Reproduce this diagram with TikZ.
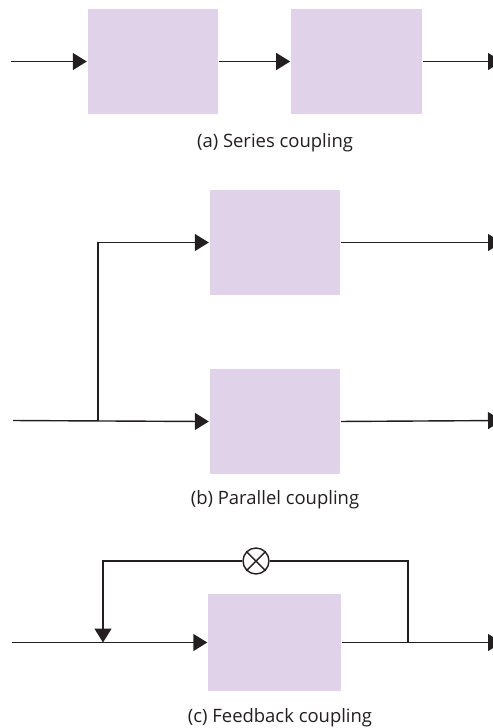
\documentclass[tikz,border=0pt]{standalone}
\usepackage{fontspec}
\setmainfont{Open Sans}
\usetikzlibrary{arrows.meta,positioning}

\definecolor{lilac}{RGB}{224,211,233}
\definecolor{ink}{RGB}{35,31,32}

\begin{document}
\begin{tikzpicture}[x=0.02cm,y=-0.02cm,>={Triangle[length=0.28cm,width=0.34cm]},
	line width=0.8pt,draw=ink,
	block/.style={fill=lilac,draw=none,inner sep=0pt,minimum width=2.62cm,minimum height=2.1cm},
	caption/.style={font=\fontsize{10.5}{12}\selectfont,text=ink},
	mult/.style={circle,draw=ink,fill=white,minimum size=0.52cm,inner sep=0pt}]
	\useasboundingbox (0,0) rectangle (493,728);

	% (a) series
	\node[block] (s1) at (153,61.5) {};
	\node[block] (s2) [right=1.42cm of s1] {};
	\coordinate (sin) at (11,61.5);
	\coordinate (sout) at (502,61.5);
	\node[caption] (capa) at (275,143) {(a) Series coupling};

	\path[->] (sin) edge (s1)
	(s1) edge (s2)
	(s2) edge (sout);

	% (b) parallel
	\node[block] (p1) at (275,242.5) {};
	\node[block] (p2) [below=1.46cm of p1] {};
	\coordinate (pin) at (13,420.5);
	\coordinate (split) at (98,420.5);
	\coordinate (pout1) at (502,242.5);
	\coordinate (pout2) at (502,420.5);
	\node[caption] (capb) at (275,500) {(b) Parallel coupling};

	\draw[->] (pin) -- (p2);
	\draw[->] (split) |- (p1);
	\path[->] (p1) edge (pout1)
	(p2) edge (pout2);

	% (c) feedback
	\node[block,minimum width=2.66cm,minimum height=1.94cm] (f) at (274.5,642.5) {};
	\node[mult] (m) at (256,561) {};
	\draw (m.north east) -- (m.south west) (m.north west) -- (m.south east);
	\coordinate (fin) at (12,642.5);
	\coordinate (tap) at (408,642.5);
	\coordinate (join) at (103,642.5);
	\coordinate (fout) at (502,642.5);
	\node[caption] (capc) at (280,718) {(c) Feedback coupling};

	\draw[->] (fin) -- (f);
	\draw[->] (f) -- (fout);
	\draw (tap) |- (m);
	\draw[->] (m) -| (join);
\end{tikzpicture}
\end{document}
